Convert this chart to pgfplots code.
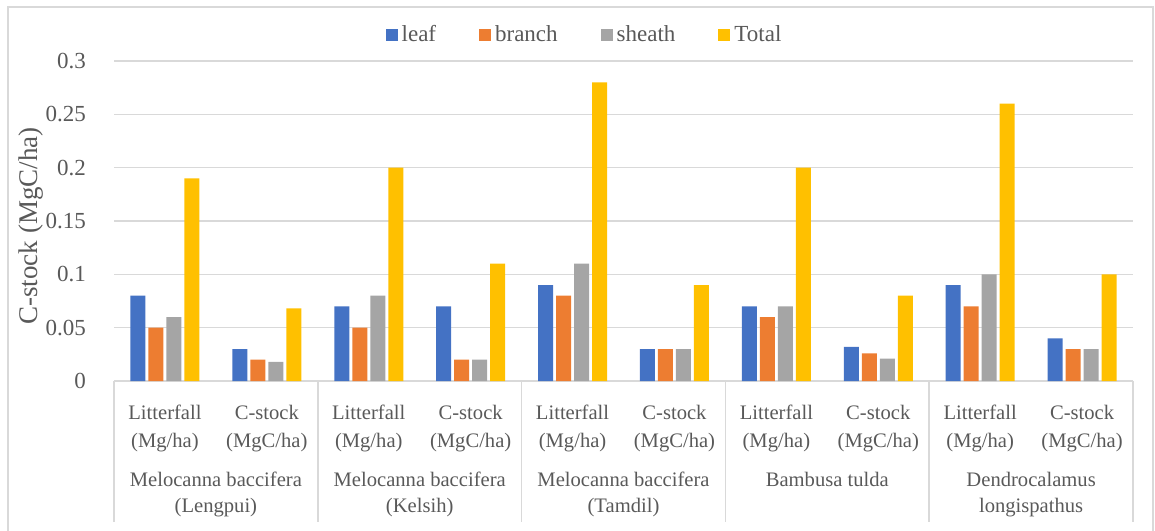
\documentclass[border=0pt]{standalone}
\usepackage{fontspec}
\setmainfont{Liberation Serif}
\usepackage{pgfplots}
\pgfplotsset{compat=1.18}
\usepackage{pgfplotstable}

\definecolor{cleaf}{HTML}{4472C4}
\definecolor{cbranch}{HTML}{ED7D31}
\definecolor{csheath}{HTML}{A5A5A5}
\definecolor{ctotal}{HTML}{FFC000}
\definecolor{gridc}{HTML}{D9D9D9}
\definecolor{txt}{HTML}{595959}

% carbon stock per component; x = 0..9 are the ten categories
\pgfplotstableread{
x leaf  branch sheath total
0 0.080 0.050  0.060  0.190
1 0.030 0.020  0.018  0.068
2 0.070 0.050  0.080  0.200
3 0.070 0.020  0.020  0.110
4 0.090 0.080  0.110  0.280
5 0.030 0.030  0.030  0.090
6 0.070 0.060  0.070  0.200
7 0.032 0.026  0.021  0.080
8 0.090 0.070  0.100  0.260
9 0.040 0.030  0.030  0.100
}\carbon

% square legend keys
\pgfplotsset{sqleg/.style={legend image code/.code={\fill[##1] (0pt,-3pt) rectangle (6pt,3pt);}}}

\begin{document}
\begin{tikzpicture}
\useasboundingbox (0,0) rectangle (577.5pt,265pt);
% chart border
\draw[gridc, line width=0.8pt] (4pt,-1pt) -- (4pt,261.5pt) -- (576.5pt,261.5pt) -- (576.5pt,-1pt);
\begin{axis}[
  at={(57pt,74.5pt)}, anchor=south west,
  scale only axis, width=509.5pt, height=160pt,
  xmin=-0.5, xmax=9.5, ymin=0, ymax=0.3,
  clip=false,
  ybar=1.5pt, bar width=7.5pt,
  axis lines=left,
  axis line style={-},
  y axis line style={draw=none},
  x axis line style={draw=gridc, line width=0.8pt},
  major tick length=0pt,
  ymajorgrids, grid style={gridc, line width=0.8pt},
  ytick={0,0.05,0.1,0.15,0.2,0.25,0.3},
  yticklabels={0,0.05,0.1,0.15,0.2,0.25,0.3},
  yticklabel style={font=\fontsize{11.5}{13}\selectfont, text=txt, xshift=-10.5pt},
  xtick={0,...,9},
  xticklabels={Litterfall\\(Mg/ha), C-stock\\(MgC/ha), Litterfall\\(Mg/ha), C-stock\\(MgC/ha),
               Litterfall\\(Mg/ha), C-stock\\(MgC/ha), Litterfall\\(Mg/ha), C-stock\\(MgC/ha),
               Litterfall\\(Mg/ha), C-stock\\(MgC/ha)},
  xticklabel style={font=\fontsize{10.3}{14}\selectfont, text=txt, align=center, anchor=north, yshift=-8.5pt},
  legend columns=4,
  legend style={draw=none, at={(0.4627,1.081)}, anchor=center,
    font=\fontsize{11.5}{13}\selectfont, text=txt,
    /tikz/every even column/.append style={column sep=19.5pt}},
]
\addplot[fill=cleaf, draw=none, sqleg] table[x=x, y=leaf] {\carbon};
\addlegendentry{leaf}
\addplot[fill=cbranch, draw=none, sqleg] table[x=x, y=branch] {\carbon};
\addlegendentry{branch}
\addplot[fill=csheath, draw=none, sqleg] table[x=x, y=sheath] {\carbon};
\addlegendentry{sheath}
\addplot[fill=ctotal, draw=none, sqleg] table[x=x, y=total] {\carbon};
\addlegendentry{Total}

% species group separators and names
\pgfplotsinvokeforeach{-0.5,1.5,3.5,5.5,7.5,9.5}{
  \draw[gridc, line width=0.8pt] (axis cs:#1,0) -- ++(0pt,-70.5pt);
}
\tikzset{grp/.style={anchor=north, align=center, text=txt, font=\fontsize{10.3}{13}\selectfont, yshift=-42pt}}
\node[grp] at (axis cs:0.5,0) {Melocanna baccifera\\(Lengpui)};
\node[grp] at (axis cs:2.5,0) {Melocanna baccifera\\(Kelsih)};
\node[grp] at (axis cs:4.5,0) {Melocanna baccifera\\(Tamdil)};
\node[grp] at (axis cs:6.5,0) {Bambusa tulda};
\node[grp] at (axis cs:8.5,0) {Dendrocalamus\\longispathus};
\end{axis}
\node[rotate=90, text=txt, font=\fontsize{13.5}{15}\selectfont] at (15.5pt,152pt) {C-stock (MgC/ha)};
\end{tikzpicture}
\end{document}
